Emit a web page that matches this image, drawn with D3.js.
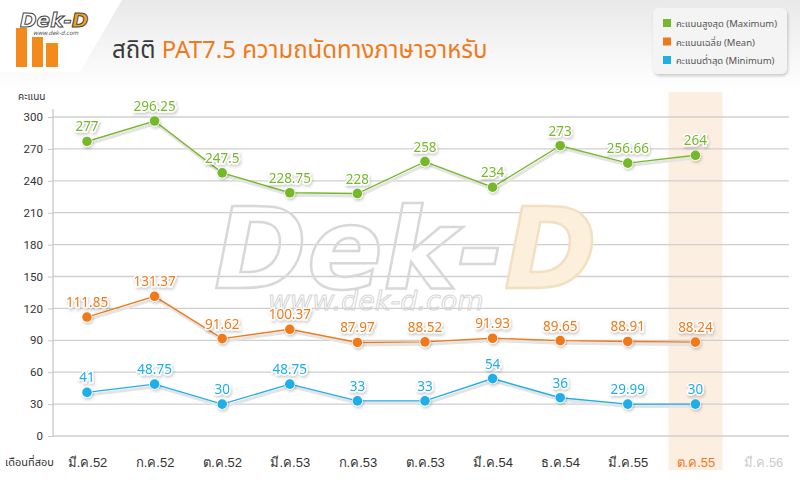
<!DOCTYPE html>
<html>
<head>
<meta charset="utf-8">
<script src="https://cdn.jsdelivr.net/npm/d3@7"></script>
<style>
  body { margin: 0; background: #fff; }
  svg { display: block; font-family: "Noto Sans Thai", "Noto Sans", "DejaVu Sans", sans-serif; }
</style>
</head>
<body>
<script>
const months = ['มี.ค.52', 'ก.ค.52', 'ต.ค.52', 'มี.ค.53', 'ก.ค.53', 'ต.ค.53', 'มี.ค.54', 'ธ.ค.54', 'มี.ค.55', 'ต.ค.55', 'มี.ค.56']
const maxScores = [277, 296.25, 247.5, 228.75, 228, 258, 234, 273, 256.66, 264]
const meanScores = [111.85, 131.37, 91.62, 100.37, 87.97, 88.52, 91.93, 89.65, 88.91, 88.24]
const minScores = [41, 48.75, 30, 48.75, 33, 33, 54, 36, 29.99, 30]
const yTicks = [0, 30, 60, 90, 120, 150, 180, 210, 240, 270, 300]
const legendNames = ['คะแนนสูงสุด (Maximum)', 'คะแนนเฉลี่ย (Mean)', 'คะแนนต่ำสุด (Minimum)']

const width = 800
const height = 480
const green = '#76b82a', orange = '#f07a1a', blue = '#1eaee8'

const series = [
    { name: legendNames[0], values: maxScores, color: green },
    { name: legendNames[1], values: meanScores, color: orange },
    { name: legendNames[2], values: minScores, color: blue }
]

const svg = d3.select('body')
    .append('svg')
    .attr('width', width)
    .attr('height', height)

const defs = svg.append('defs')
const hdr = defs.append('linearGradient').attr('id', 'hdr')
    .attr('x1', 0).attr('y1', 0).attr('x2', 0).attr('y2', 1)
hdr.append('stop').attr('offset', '0%').attr('stop-color', '#e9e9e9')
hdr.append('stop').attr('offset', '100%').attr('stop-color', '#ffffff')

const shadow = defs.append('filter').attr('id', 'shadow')
    .attr('x', '-10%').attr('y', '-10%').attr('width', '130%').attr('height', '140%')
shadow.append('feDropShadow').attr('dx', 1).attr('dy', 2).attr('stdDeviation', 1.5)
    .attr('flood-color', '#000').attr('flood-opacity', 0.2)

// header
svg.append('rect').attr('x', 0).attr('y', 0).attr('width', width).attr('height', 90)
    .attr('fill', 'url(#hdr)')
svg.append('path')
    .attr('d', 'M0,0 L122,0 L80,72 L0,72 Z')
    .attr('fill', '#fff')

// logo
const logo = svg.append('g')
const bars = [[16, 28, 11, 39], [32, 37, 11, 30], [46, 43, 12, 24]]
logo.selectAll('rect.bar').data(bars).enter().append('rect')
    .attr('x', d => d[0]).attr('y', d => d[1])
    .attr('width', d => d[2]).attr('height', d => d[3])
    .attr('fill', '#f28a1c')
const logoText = logo.append('text').attr('x', 20).attr('y', 27)
    .attr('font-size', 20).attr('font-weight', 'bold').attr('font-style', 'italic')
    .attr('stroke', '#444').attr('stroke-width', 1)
    .attr('font-family', 'DejaVu Sans')
logoText.append('tspan').attr('fill', '#fff').text('Dek-')
logoText.append('tspan').attr('fill', '#f6a21c').text('D')
logo.append('text').attr('x', 33).attr('y', 35)
    .attr('font-size', 6).attr('fill', '#555').attr('font-style', 'italic')
    .text('www.dek-d.com')

// title
const title = svg.append('text').attr('x', 112).attr('y', 58).attr('font-size', 24)
title.append('tspan').attr('fill', '#3a3a3a').text('สถิติ ')
title.append('tspan').attr('fill', orange).text('PAT7.5 ความถนัดทางภาษาอาหรับ')

// legend
const legend = svg.append('g').attr('transform', 'translate(653, 8)')
legend.append('rect').attr('width', 134).attr('height', 66).attr('rx', 6)
    .attr('fill', '#f4f4f4').attr('filter', 'url(#shadow)')
const li = legend.selectAll('g.item').data(series).enter().append('g')
    .attr('transform', (d, i) => `translate(10, ${15 + i * 18.5})`)
li.append('rect').attr('x', 0).attr('y', -4).attr('width', 8).attr('height', 8).attr('fill', d => d.color)
li.append('text').attr('x', 13).attr('y', 4).attr('font-size', 9.5).attr('fill', '#555').text(d => d.name)

// scales
const xScale = d3.scalePoint()
    .domain(months)
    .range([87, 763])

const yScale = d3.scaleLinear()
    .domain([0, 300])
    .range([436, 117])

// highlight latest exam column
const hx = xScale(months[9])
svg.append('rect')
    .attr('x', hx - 27).attr('y', 92)
    .attr('width', 54).attr('height', 378)
    .attr('fill', '#fdeee2')

// grid
svg.append('g').selectAll('line').data(yTicks).enter().append('line')
    .attr('x1', 53).attr('x2', 789)
    .attr('y1', d => yScale(d)).attr('y2', d => yScale(d))
    .attr('stroke', '#cfcfcf').attr('stroke-width', 1.3)

// watermark
const wmText = svg.append('text').attr('x', 214).attr('y', 288)
    .attr('font-size', 112).attr('font-style', 'italic').attr('font-weight', 'bold')
    .attr('font-family', 'DejaVu Sans')
    .attr('stroke-width', 2.5)
wmText.append('tspan').attr('fill', 'none').attr('stroke', '#d8d8d8').text('Dek-')
wmText.append('tspan').attr('fill', '#fcf0dc').attr('stroke', '#f2e0c2').text('D')
svg.append('text').attr('x', 268).attr('y', 310)
    .attr('font-size', 27).attr('font-style', 'italic')
    .attr('fill', 'none').attr('stroke', '#d6d6d6').attr('stroke-width', 1)
    .attr('font-family', 'DejaVu Sans')
    .text('www.dek-d.com')

// y axis
const yAxis = d3.axisLeft(yScale)
    .tickValues(yTicks)
    .tickSize(5)
    .tickPadding(5)
const yg = svg.append('g')
    .attr('transform', 'translate(53, 0)')
    .call(yAxis)
yg.select('.domain').attr('stroke', '#c8c8c8').attr('stroke-width', 1.3)
    .attr('d', `M0,${yScale(300) - 8}V${yScale(0)}`)
yg.selectAll('.tick line').attr('stroke', '#c8c8c8')
yg.selectAll('.tick text').attr('font-size', 11.5).attr('fill', '#333')
    .attr('font-family', 'Roboto, "Noto Sans", sans-serif')

svg.append('text').attr('x', 18).attr('y', 100).attr('font-size', 10).attr('fill', '#333').text('คะแนน')

// x axis labels
const xAxis = d3.axisBottom(xScale).tickSize(0).tickPadding(14)
const xg = svg.append('g')
    .attr('transform', `translate(0, ${yScale(0) + 8})`)
    .call(xAxis)
xg.select('.domain').remove()
xg.selectAll('.tick text')
    .attr('font-size', 13)
    .attr('fill', (d, i) => i === 9 ? orange : i === 10 ? '#cccccc' : '#333')

svg.append('text').attr('x', 5).attr('y', 466).attr('font-size', 11).attr('fill', '#333').text('เดือนที่สอบ')

// series
const line = d3.line()
    .x((d, i) => xScale(months[i]))
    .y(d => yScale(d))

const sg = svg.selectAll('g.series').data(series).enter().append('g')

sg.append('path')
    .attr('d', d => line(d.values))
    .attr('transform', 'translate(1.5, 2.5)')
    .attr('fill', 'none').attr('stroke', '#e4e4e4').attr('stroke-width', 3)
sg.append('path')
    .attr('d', d => line(d.values))
    .attr('fill', 'none').attr('stroke', d => d.color).attr('stroke-width', 1.4)

sg.each(function (s) {
    const g = d3.select(this)
    const pts = g.selectAll('g.pt').data(s.values).enter().append('g')
        .attr('transform', (d, i) => `translate(${xScale(months[i])}, ${yScale(d)})`)
    pts.append('circle').attr('r', 5.5).attr('fill', '#fff').attr('filter', 'url(#shadow)')
    pts.append('circle').attr('r', 4.8).attr('fill', s.color)
    pts.append('text')
        .attr('y', -10)
        .attr('text-anchor', 'middle')
        .attr('font-size', 13.5)
        .attr('fill', s.color)
        .attr('stroke', '#fff').attr('stroke-width', 3)
        .attr('paint-order', 'stroke')
        .attr('filter', 'url(#shadow)')
        .text(d => d)
})
</script>
</body>
</html>
